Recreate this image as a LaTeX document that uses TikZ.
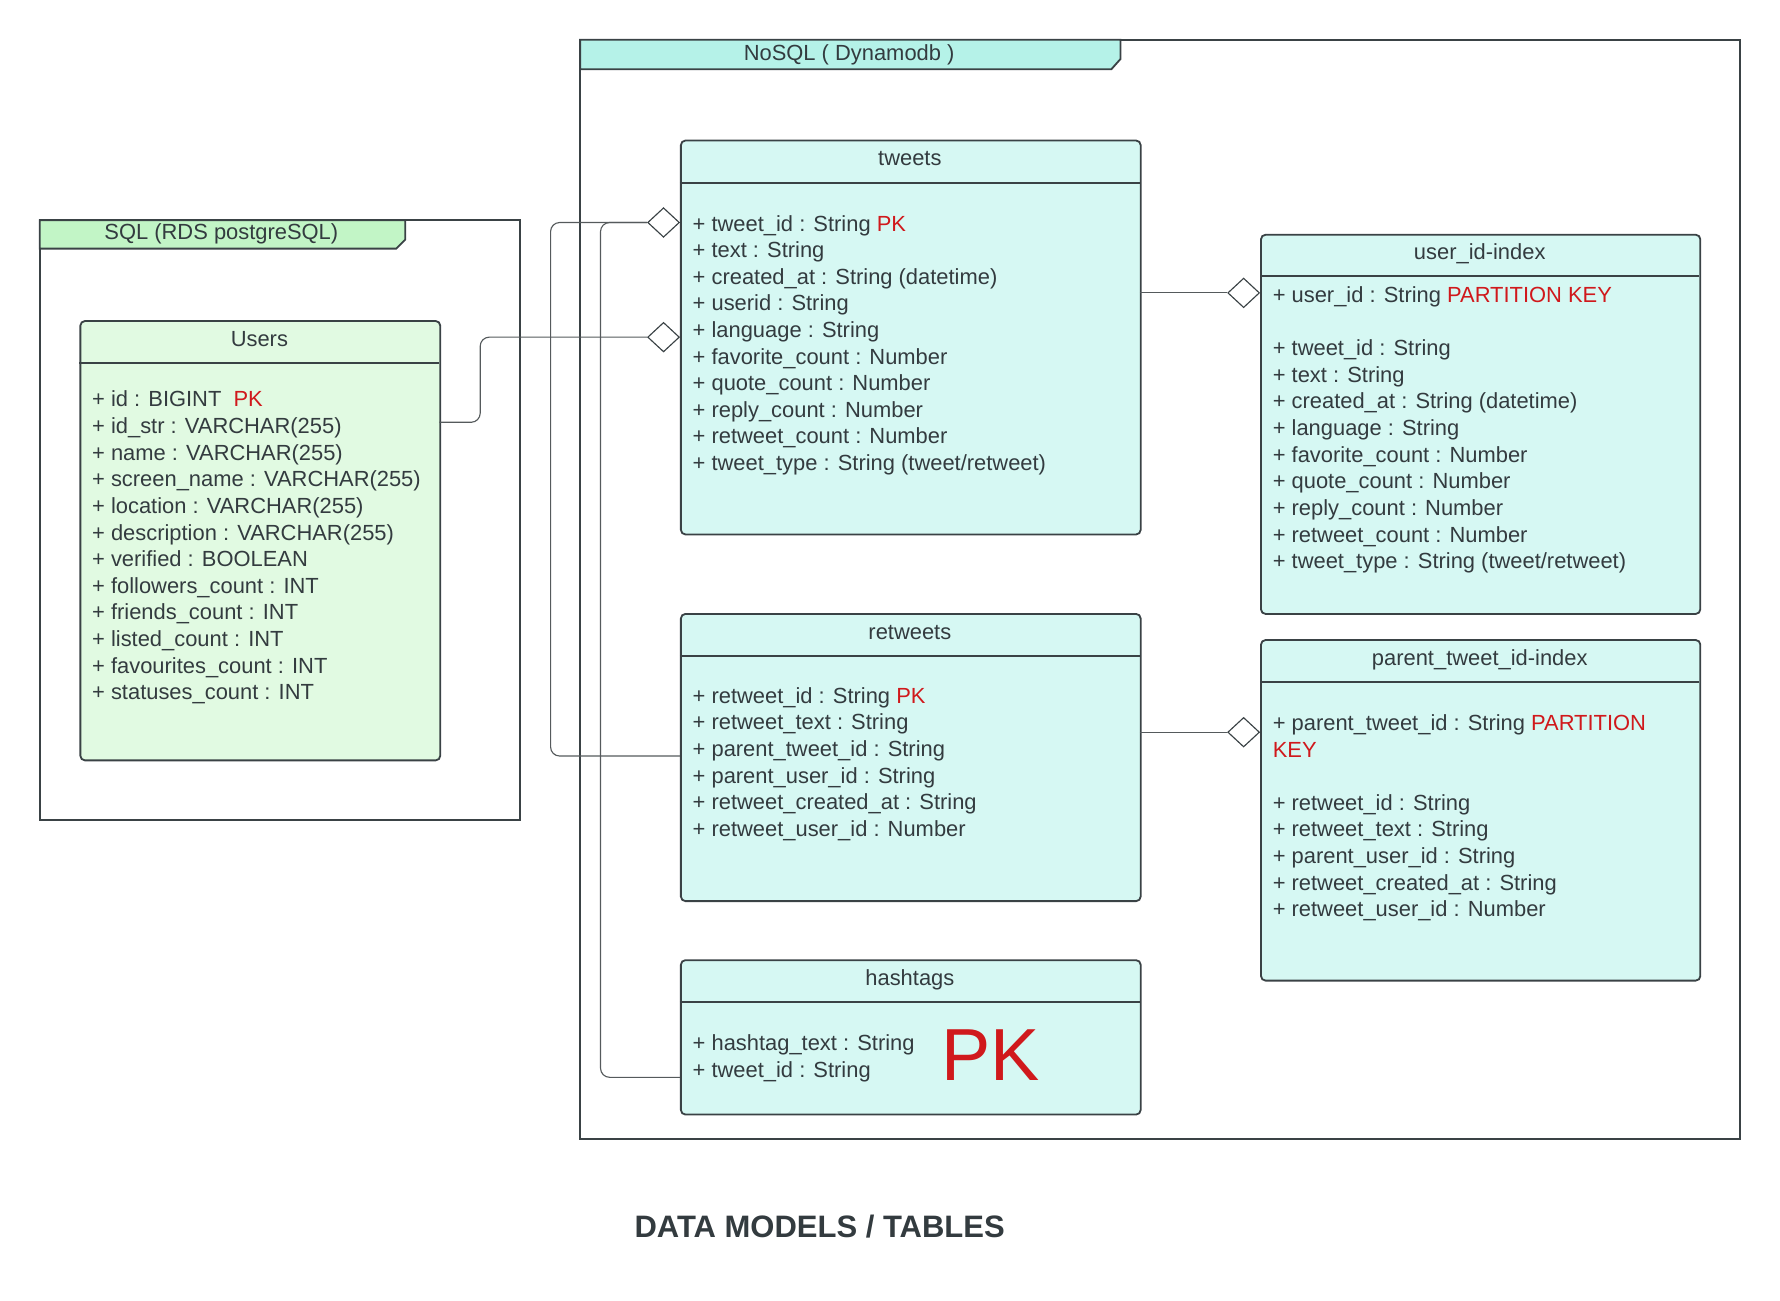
\documentclass[tikz,border=0pt]{standalone}
\usepackage{fontspec}
\setmainfont{Liberation Sans}
\usetikzlibrary{shapes.geometric}
\definecolor{txt}{HTML}{333B3F}
\definecolor{pkred}{HTML}{D0191C}
\definecolor{edgec}{HTML}{3A4245}
\definecolor{tealfill}{HTML}{D6F8F3}
\definecolor{sqlfill}{HTML}{E1FAE2}
\definecolor{tealtab}{HTML}{B5F2E8}
\definecolor{greentab}{HTML}{C2F5C6}
\definecolor{conncol}{HTML}{555A5C}
\tikzset{
  tbox/.style={draw=edgec, line width=1.6pt, rounded corners=4pt, inner sep=0pt, anchor=north west},
  field/.style={anchor=base west, inner sep=0pt, text=txt, font=\fontsize{19.3}{22}\selectfont},
  ttl/.style={anchor=base, inner sep=0pt, text=txt, font=\fontsize{19.3}{22}\selectfont},
  frameline/.style={draw=edgec, line width=1.6pt},
  hdr/.style={draw=edgec, line width=1.6pt},
  conn/.style={draw=conncol, line width=1pt, rounded corners=8pt},
  agg/.style={diamond, draw=edgec, fill=white, line width=1pt, minimum width=28pt, minimum height=26pt, inner sep=0pt, anchor=east}
}
\newcommand{\fieldrows}[4]{\foreach \t [count=\i from 0] in {#4} {\node[field] (#1-\i) at (#2,{#3+\i*23.44}) {\t};}}
\begin{document}
\begin{tikzpicture}[x=1pt,y=-1pt]
\useasboundingbox (0,0) rectangle (1568,1145.2);
% SQL frame
\draw[frameline] (35,194) rectangle (458,722);
\draw[frameline, fill=greentab] (35,194) -- (357,194) -- (357,211) -- (349,219) -- (35,219) -- cycle;
\node[ttl] (sqltitle) at (195,211) {SQL (RDS postgreSQL)};
% NoSQL frame
\draw[frameline] (511,35) rectangle (1533,1003);
\draw[frameline, fill=tealtab] (511,35) -- (987,35) -- (987,52) -- (979,61) -- (511,61) -- cycle;
\node[ttl] (nosqltitle) at (748,53) {NoSQL ( Dynamodb )};

% Users
\node[tbox, fill=sqlfill, minimum width=317pt, minimum height=387pt] (users) at (70,282) {};
\draw[hdr] (70,320) -- (387,320);
\node[ttl] (userst) at (228.5,305) {Users};
\fieldrows{u}{81}{358.5}{{+ id : BIGINT\ \ \textcolor{pkred}{PK}},{+ id\_str : VARCHAR(255)},{+ name : VARCHAR(255)},{+ screen\_name : VARCHAR(255)},{+ location : VARCHAR(255)},{+ description : VARCHAR(255)},{+ verified : BOOLEAN},{+ followers\_count : INT},{+ friends\_count : INT},{+ listed\_count : INT},{+ favourites\_count : INT},{+ statuses\_count : INT}}

% tweets
\node[tbox, fill=tealfill, minimum width=405pt, minimum height=347pt] (tweets) at (599,123) {};
\draw[hdr] (599,161) -- (1004,161);
\node[ttl] (tweetst) at (801.5,146) {tweets};
\fieldrows{tw}{610}{203.5}{{+ tweet\_id : String \textcolor{pkred}{PK}},{+ text : String},{+ created\_at : String (datetime)},{+ userid : String},{+ language : String},{+ favorite\_count : Number},{+ quote\_count : Number},{+ reply\_count : Number},{+ retweet\_count : Number},{+ tweet\_type : String (tweet/retweet)}}

% user_id-index
\node[tbox, fill=tealfill, minimum width=387pt, minimum height=334pt] (uidx) at (1110,206) {};
\draw[hdr] (1110,243) -- (1497,243);
\node[ttl] (uidxt) at (1303.5,229) {user\_id-index};
\fieldrows{ui}{1121}{266.5}{{+ user\_id : String \textcolor{pkred}{PARTITION KEY}},{},{+ tweet\_id : String},{+ text : String},{+ created\_at : String (datetime)},{+ language : String},{+ favorite\_count : Number},{+ quote\_count : Number},{+ reply\_count : Number},{+ retweet\_count : Number},{+ tweet\_type : String (tweet/retweet)}}

% retweets
\node[tbox, fill=tealfill, minimum width=405pt, minimum height=253pt] (retweets) at (599,540) {};
\draw[hdr] (599,578) -- (1004,578);
\node[ttl] (retweetst) at (801.5,563) {retweets};
\fieldrows{rt}{610}{619.5}{{+ retweet\_id : String \textcolor{pkred}{PK}},{+ retweet\_text : String},{+ parent\_tweet\_id : String},{+ parent\_user\_id : String},{+ retweet\_created\_at : String},{+ retweet\_user\_id : Number}}

% parent_tweet_id-index
\node[tbox, fill=tealfill, minimum width=387pt, minimum height=300pt] (pidx) at (1110,563) {};
\draw[hdr] (1110,601) -- (1497,601);
\node[ttl] (pidxt) at (1303.5,586) {parent\_tweet\_id-index};
\fieldrows{pi}{1121}{643.5}{{+ parent\_tweet\_id : String \textcolor{pkred}{PARTITION}},{\textcolor{pkred}{KEY}},{},{+ retweet\_id : String},{+ retweet\_text : String},{+ parent\_user\_id : String},{+ retweet\_created\_at : String},{+ retweet\_user\_id : Number}}

% hashtags
\node[tbox, fill=tealfill, minimum width=405pt, minimum height=136pt] (hashtags) at (599,845) {};
\draw[hdr] (599,883) -- (1004,883);
\node[ttl] (hashtagst) at (801.5,868) {hashtags};
\fieldrows{ht}{610}{925.5}{{+ hashtag\_text : String},{+ tweet\_id : String}}
\node[anchor=base west, inner sep=0pt, text=pkred, font=\fontsize{65}{70}\selectfont] (bigpk) at (829,952) {PK};

% aggregation diamonds
\node[agg] (d1) at (599,196) {};
\node[agg] (d2) at (599,297) {};
\node[agg] (d3) at (1110,258) {};
\node[agg] (d4) at (1110,645) {};

% connector end points on box sides
\coordinate (usersE) at (387,372);
\coordinate (retweetsW) at (599,666);
\coordinate (hashtagsW) at (599,949);
\coordinate (tweetsE) at (1004,258);
\coordinate (retweetsE) at (1004,645);

\draw[conn] (usersE) -- (423,372) -- (423,297) -- (d2.west);
\draw[conn] (d1.west) -- (485,196) -- (485,666) -- (retweetsW);
\draw[conn] (d1.west) -- (529,196) -- (529,949) -- (hashtagsW);
\draw[conn] (tweetsE) -- (d3.west);
\draw[conn] (retweetsE) -- (d4.west);

% caption
\node[anchor=base, inner sep=0pt, text=txt, font=\bfseries\fontsize{27.3}{30}\selectfont] (caption) at (722,1090) {DATA MODELS / TABLES};
\end{tikzpicture}
\end{document}
